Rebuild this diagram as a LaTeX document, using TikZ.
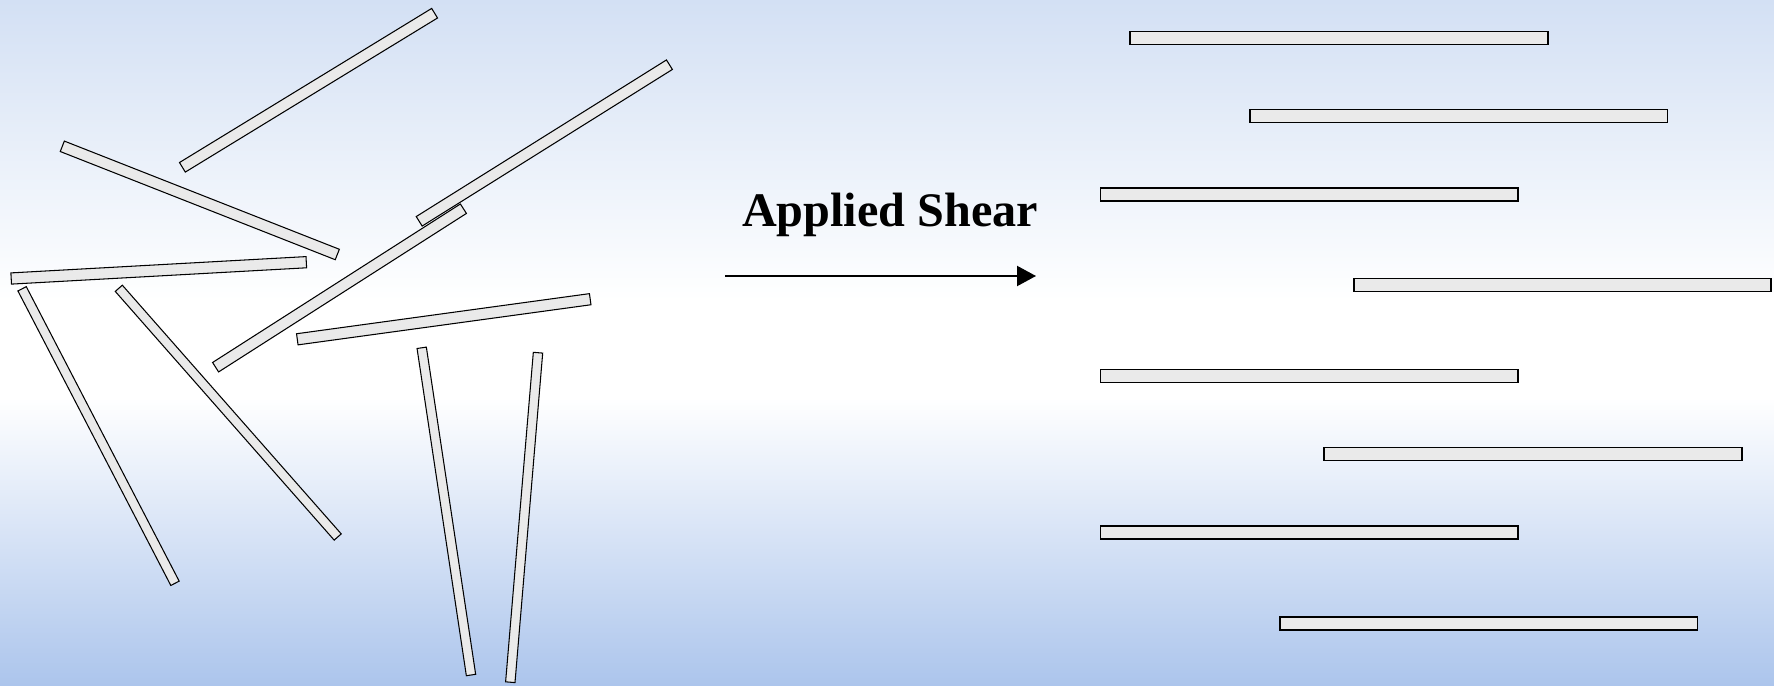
\documentclass[tikz,border=0pt]{standalone}
\usepackage{fontspec}
\setmainfont{Liberation Serif}
\usetikzlibrary{calc,arrows.meta}
\definecolor{rodfill}{RGB}{234,234,234}
\definecolor{bgtop}{RGB}{211,224,244}
\definecolor{bgbot}{RGB}{172,197,236}
\pgfdeclareverticalshading{bgshade}{100bp}{color(0bp)=(bgbot); color(25bp)=(bgbot); color(46bp)=(white); color(53bp)=(white); color(75bp)=(bgtop); color(100bp)=(bgtop)}
\tikzset{
  leftrod/.style={draw=black, fill=rodfill, line width=0.3pt, line join=miter},
  rightrod/.style={draw=black, fill=rodfill, line width=0.5pt},
  shear/.style={line width=0.6pt, -{Triangle[length=1.9mm,width=2mm]}},
  shearlabel/.style={font=\fontsize{13.7pt}{16pt}\selectfont\bfseries, inner sep=0pt, anchor=base},
}
% x1 y1 x2 y2 halfwidth
\newcommand{\tiltedrod}[5]{%
  \filldraw[leftrod] ($(#1,#2)!#5!90:(#3,#4)$) -- ($(#1,#2)!#5!-90:(#3,#4)$)
    -- ($(#3,#4)!#5!90:(#1,#2)$) -- ($(#3,#4)!#5!-90:(#1,#2)$) -- cycle;}
\begin{document}
\begin{tikzpicture}[x=0.01cm,y=-0.01cm]
\useasboundingbox (0,0) rectangle (1774,685);
\shade[shading=bgshade] (0,0) rectangle (1774,685);

% random fibres (left)
\tiltedrod{182.4}{167.3}{434.6}{13.2}{0.056cm}
\tiltedrod{419.2}{221.3}{669.4}{64.7}{0.056cm}
\tiltedrod{215.6}{367.2}{463.4}{208.7}{0.056cm}
\tiltedrod{62.3}{146.3}{337.3}{254.5}{0.056cm}
\tiltedrod{11.2}{278.5}{306.3}{262.2}{0.056cm}
\tiltedrod{297.3}{339.3}{590.2}{299.2}{0.056cm}
\tiltedrod{22.1}{288.8}{175}{583.3}{0.047cm}
\tiltedrod{118.8}{288.3}{337.7}{537}{0.047cm}
\tiltedrod{421.7}{347.8}{471}{675}{0.047cm}
\tiltedrod{538}{352.7}{510.3}{682.2}{0.047cm}

% label and arrow
\node[shearlabel] (lbl) at (890,226) {Applied Shear};
\coordinate (arrs) at (725,276);
\coordinate (arre) at (1036,276);
\draw[shear] (arrs) -- (arre);

% aligned fibres (right)
\filldraw[rightrod] (1130,31.5) rectangle (1548,44.5);
\filldraw[rightrod] (1250,109.5) rectangle (1667.5,122.5);
\filldraw[rightrod] (1100.5,188) rectangle (1518,201);
\filldraw[rightrod] (1354,278.5) rectangle (1771,291.5);
\filldraw[rightrod] (1100.5,369.5) rectangle (1518,382.5);
\filldraw[rightrod] (1324,447.5) rectangle (1742,460.5);
\filldraw[rightrod] (1100.5,526) rectangle (1518,539);
\filldraw[rightrod] (1280,617) rectangle (1697.5,630);
\end{tikzpicture}
\end{document}
